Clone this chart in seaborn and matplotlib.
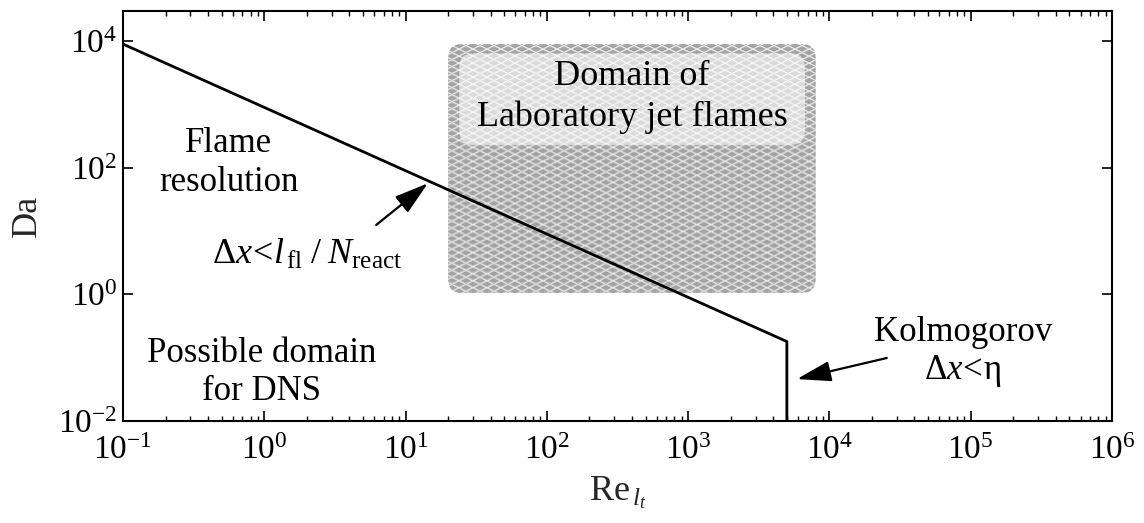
import numpy as np
import pandas as pd
import matplotlib
matplotlib.use("Agg")
import matplotlib.pyplot as plt
import seaborn as sns
from matplotlib.patches import FancyBboxPatch
from matplotlib.ticker import FixedLocator, LogLocator, NullLocator, LogFormatterMathtext

# DNS resolution boundary in the (Re_lt, Da) plane:
# flame-resolution limit followed by the Kolmogorov limit
boundary_re = [0.1, 5000.0, 5000.0]
boundary_da = [9000.0, 0.18, 0.01]

# region covered by laboratory jet flames, and its title panel
lab_re = [20.0, 8000.0]
lab_da = [1.05, 9000.0]
lab_title_re = [24.0, 6700.0]
lab_title_da = [230.0, 6400.0]

# arrows: (tail, head) pairs
flame_arrow_re = [6.2, 14.4]
flame_arrow_da = [12.5, 57.0]
kolmo_arrow_re = [25500.0, 5900.0]
kolmo_arrow_da = [0.099, 0.046]

x_ticks = [1e-1, 1e0, 1e1, 1e2, 1e3, 1e4, 1e5, 1e6]
y_ticks = [1e-2, 1e0, 1e2, 1e4]
x_lim = (1e-1, 1e6)
y_lim = (1e-2, 3e4)

sns.set_theme(style="ticks")
plt.rcParams.update({
    "font.family": ["Liberation Serif", "DejaVu Serif"],
    "mathtext.fontset": "custom",
    "mathtext.rm": "Liberation Serif",
    "mathtext.it": "Liberation Serif:italic",
    "mathtext.bf": "Liberation Serif:bold",
    "mathtext.default": "regular",
    "axes.unicode_minus": False,
    "axes.linewidth": 1.5,
    "axes.edgecolor": "black",
    "text.color": "black",
    "xtick.color": "black",
    "ytick.color": "black",
})

W_IN, H_IN, DPI = 11.44, 5.23, 100
fig, ax = plt.subplots(figsize=(W_IN, H_IN), dpi=DPI)
L, R, B, T = 0.1075, 0.972, 0.195, 0.979
fig.subplots_adjust(left=L, right=R, bottom=B, top=T)

ax.set_xscale("log")
ax.set_yscale("log")
ax.set_xlim(*x_lim)
ax.set_ylim(*y_lim)

# boundary curve
curve = pd.DataFrame({"Re": boundary_re, "Da": boundary_da})
sns.lineplot(data=curve, x="Re", y="Da", ax=ax, color="black", lw=2.0,
             estimator=None, sort=False, zorder=5)


def to_axes(xs, ys):
    """Data coordinates -> axes fraction via the axes' own scale/limits."""
    pts = ax.transData.transform(np.column_stack([xs, ys]))
    return ax.transAxes.inverted().transform(pts)


# diamond mesh texture, generated at screen resolution over the whole axes
bb = ax.get_window_extent()
wpx = int(round(bb.width))
hpx = int(round(bb.height))
u, v = np.meshgrid(np.arange(wpx) + 0.5, np.arange(hpx) + 0.5)
period = 7.0
slope = 0.5
cosang = 1.0 / np.sqrt(1 + slope ** 2)


def line_weight(p):
    d = np.mod(p, period)
    d = np.minimum(d, period - d) * cosang
    return np.clip(1.0 - d, 0.0, 1.0)


wgt = np.maximum(line_weight(v - slope * u), line_weight(v + slope * u))
grey = 0.64
tex = grey * (1 - wgt) + 1.0 * wgt
rgb = np.dstack([tex, tex, tex])

aspect = bb.width / bb.height
(bx0, by0), (bx1, by1) = to_axes(lab_re, lab_da)
rad = 14.0 / bb.width
box = FancyBboxPatch((bx0, by0), bx1 - bx0, by1 - by0,
                     boxstyle=f"round,pad=0,rounding_size={rad}",
                     mutation_aspect=aspect, transform=ax.transAxes,
                     facecolor="none", edgecolor="none")
ax.add_patch(box)
img = ax.imshow(rgb, extent=(0, 1, 0, 1), transform=ax.transAxes,
                aspect="auto", interpolation="bilinear", origin="lower",
                zorder=1)
img.set_clip_path(box)
ax.set_xlim(*x_lim)
ax.set_ylim(*y_lim)

(tx0, ty0), (tx1, ty1) = to_axes(lab_title_re, lab_title_da)
title_panel = FancyBboxPatch((tx0, ty0), tx1 - tx0, ty1 - ty0,
                             boxstyle=f"round,pad=0,rounding_size={rad}",
                             mutation_aspect=aspect, transform=ax.transAxes,
                             facecolor="white", edgecolor="none", alpha=0.6,
                             zorder=2)
ax.add_patch(title_panel)
ax.text((tx0 + tx1) / 2, (ty0 + ty1) / 2 + 0.005, "Domain of\nLaboratory jet flames",
        transform=ax.transAxes, ha="center", va="center", fontsize=26,
        linespacing=1.3, zorder=6)

# region labels
ax.text(0.56, 118, "Flame\nresolution", ha="center", va="center",
        fontsize=25, linespacing=1.25)
ax.text(2.0, 3.0,
        r"$\Delta\mathit{x}\!<\!\mathit{l}_{\,\mathrm{fl}}\;/\;\mathit{N}_{\mathrm{react}}$",
        ha="center", va="baseline", fontsize=26)
ax.text(0.96, 0.058, "Possible domain\nfor DNS", ha="center", va="center",
        fontsize=25, linespacing=1.2)
ax.text(88000, 0.12, "Kolmogorov\n" + r"$\Delta\mathit{x}\!<\!\mathrm{\eta}$",
        ha="center", va="center", fontsize=25, linespacing=1.15)

arrow_kw = dict(arrowstyle="-|>,head_length=1.4,head_width=0.42",
                mutation_scale=15, color="black", lw=1.6,
                shrinkA=0, shrinkB=0)
ax.annotate("", xy=(flame_arrow_re[1], flame_arrow_da[1]),
            xytext=(flame_arrow_re[0], flame_arrow_da[0]),
            arrowprops=arrow_kw, zorder=6)
ax.annotate("", xy=(kolmo_arrow_re[1], kolmo_arrow_da[1]),
            xytext=(kolmo_arrow_re[0], kolmo_arrow_da[0]),
            arrowprops=arrow_kw, zorder=6)

# axes, ticks, labels
ax.xaxis.set_major_locator(FixedLocator(x_ticks))
ax.xaxis.set_minor_locator(LogLocator(base=10, subs=np.arange(2, 10), numticks=20))
ax.xaxis.set_major_formatter(LogFormatterMathtext())
ax.yaxis.set_major_locator(FixedLocator(y_ticks))
ax.yaxis.set_minor_locator(NullLocator())
ax.yaxis.set_major_formatter(LogFormatterMathtext())
ax.tick_params(which="both", direction="in", top=True, right=True,
               colors="black")
ax.tick_params(which="major", length=7, width=1.2, labelsize=24)
ax.tick_params(which="minor", length=3.5, width=1.0)
ax.tick_params(axis="x", which="major", pad=10)
ax.tick_params(axis="y", which="major", pad=4)

ax.set_xlabel(r"$\mathrm{Re}_{\,\mathit{l}_{\mathit{t}}}$", fontsize=26, labelpad=6)
ax.set_ylabel("Da", fontsize=26, labelpad=10)
for s in ax.spines.values():
    s.set_visible(True)
    s.set_linewidth(1.5)

ax.set_xlim(*x_lim)
ax.set_ylim(*y_lim)
fig.savefig("out.png", dpi=DPI)
